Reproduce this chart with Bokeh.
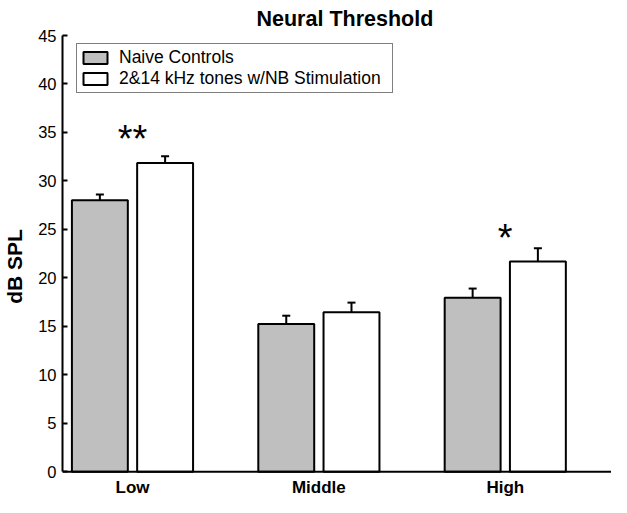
import numpy as np
from bokeh.plotting import figure
from bokeh.models import (ColumnDataSource, Whisker, TeeHead, Legend, LegendItem, Range1d,
                          FixedTicker, Span)
from bokeh.core.properties import value
from bokeh.embed import file_html
from bokeh.resources import INLINE

# ---- data ----
categories = ["Low", "Middle", "High"]
naive = [28.0, 15.25, 17.95]
naive_err = [0.6, 0.85, 0.95]
stim = [31.85, 16.45, 21.7]
stim_err = [0.7, 1.0, 1.35]
sig_labels = ["**", "*"]
sig_cat = [0, 2]
sig_y = [34.9, 24.75]
y_ticks = [0, 5, 10, 15, 20, 25, 30, 35, 40, 45]

FONT = "Liberation Sans"
GRAY = "#bfbfbf"
off = 0.175
bw = 0.30

x = np.arange(len(categories))
src_n = ColumnDataSource(dict(x=x - off, top=naive,
                              lo=np.array(naive) - np.array(naive_err),
                              hi=np.array(naive) + np.array(naive_err)))
src_s = ColumnDataSource(dict(x=x + off, top=stim,
                              lo=np.array(stim) - np.array(stim_err),
                              hi=np.array(stim) + np.array(stim_err)))

# the frame reaches near the figure's bottom; y below 0 leaves room for category labels
p = figure(width=611, height=497, output_backend="svg", toolbar_location=None,
           x_axis_location=None,
           x_range=Range1d(-0.3755, 2.570), y_range=Range1d(-2.65, 45),
           min_border=0, min_border_left=58, min_border_right=0,
           min_border_top=0, min_border_bottom=0)

p.background_fill_color = "white"
p.border_fill_color = "white"
p.outline_line_color = None
p.xgrid.visible = False
p.ygrid.visible = False

r_n = p.vbar(x="x", top="top", width=bw, source=src_n, fill_color=GRAY,
             line_color="black", line_width=2)
r_s = p.vbar(x="x", top="top", width=bw, source=src_s, fill_color="white",
             line_color="black", line_width=2)

for s in (src_n, src_s):
    w = Whisker(source=s, base="x", upper="hi", lower="lo", line_width=2, line_color="black",
                upper_head=TeeHead(size=8, line_width=2, line_color="black"),
                lower_head=TeeHead(size=8, line_width=2, line_color="black"))
    p.add_layout(w)

# x axis line at zero
p.add_layout(Span(location=0, dimension="width", line_color="black", line_width=2))

# category labels below the axis line
cat_src = ColumnDataSource(dict(x=x, y=np.zeros(len(x)), t=categories))
p.text(x="x", y="y", text="t", source=cat_src, text_align="center",
       text_baseline="alphabetic", y_offset=16, text_font=value(FONT),
       text_font_size="17px", text_font_style="bold", text_color="black")

sig_src = ColumnDataSource(dict(x=[x[i] for i in sig_cat], y=sig_y, t=sig_labels))
p.text(x="x", y="y", text="t", source=sig_src, text_align="center",
       text_baseline="alphabetic", y_offset=6, text_font=value(FONT),
       text_font_size="38px", text_color="black")

# y axis
p.yaxis.ticker = FixedTicker(ticks=y_ticks)
p.yaxis.bounds = (0, 45)
p.yaxis.major_tick_in = 5
p.yaxis.major_tick_out = 0
p.yaxis.minor_tick_line_color = None
p.yaxis.axis_line_width = 2
p.yaxis.major_tick_line_width = 2
p.yaxis.major_label_standoff = 6
p.yaxis.major_label_text_font = FONT
p.yaxis.major_label_text_font_size = "16.5px"
p.yaxis.major_label_text_color = "black"
p.yaxis.axis_label = "dB SPL"
p.yaxis.axis_label_text_font = FONT
p.yaxis.axis_label_text_font_size = "21px"
p.yaxis.axis_label_text_font_style = "bold"
p.yaxis.axis_label_text_color = "black"
p.yaxis.axis_label_standoff = 9

# title
p.title.text = "Neural Threshold"
p.title.align = "left"
p.title.offset = 194
p.title.text_font = FONT
p.title.text_font_size = "21.5px"
p.title.text_font_style = "bold"
p.title.text_color = "black"
p.title.standoff = 9

legend = Legend(items=[LegendItem(label="Naive Controls", renderers=[r_n]),
                       LegendItem(label="2&14 kHz tones w/NB Stimulation", renderers=[r_s])],
                location=(14, 404), margin=0, padding=3, spacing=0,
                glyph_width=30, glyph_height=15, label_height=15, label_standoff=9,
                label_width=270,
                label_text_font=FONT, label_text_font_size="17.5px", label_text_color="black",
                border_line_color="black", border_line_width=1.5,
                background_fill_color="white", background_fill_alpha=1.0)
p.add_layout(legend)

open("out.html", "w").write(file_html(p, INLINE))
